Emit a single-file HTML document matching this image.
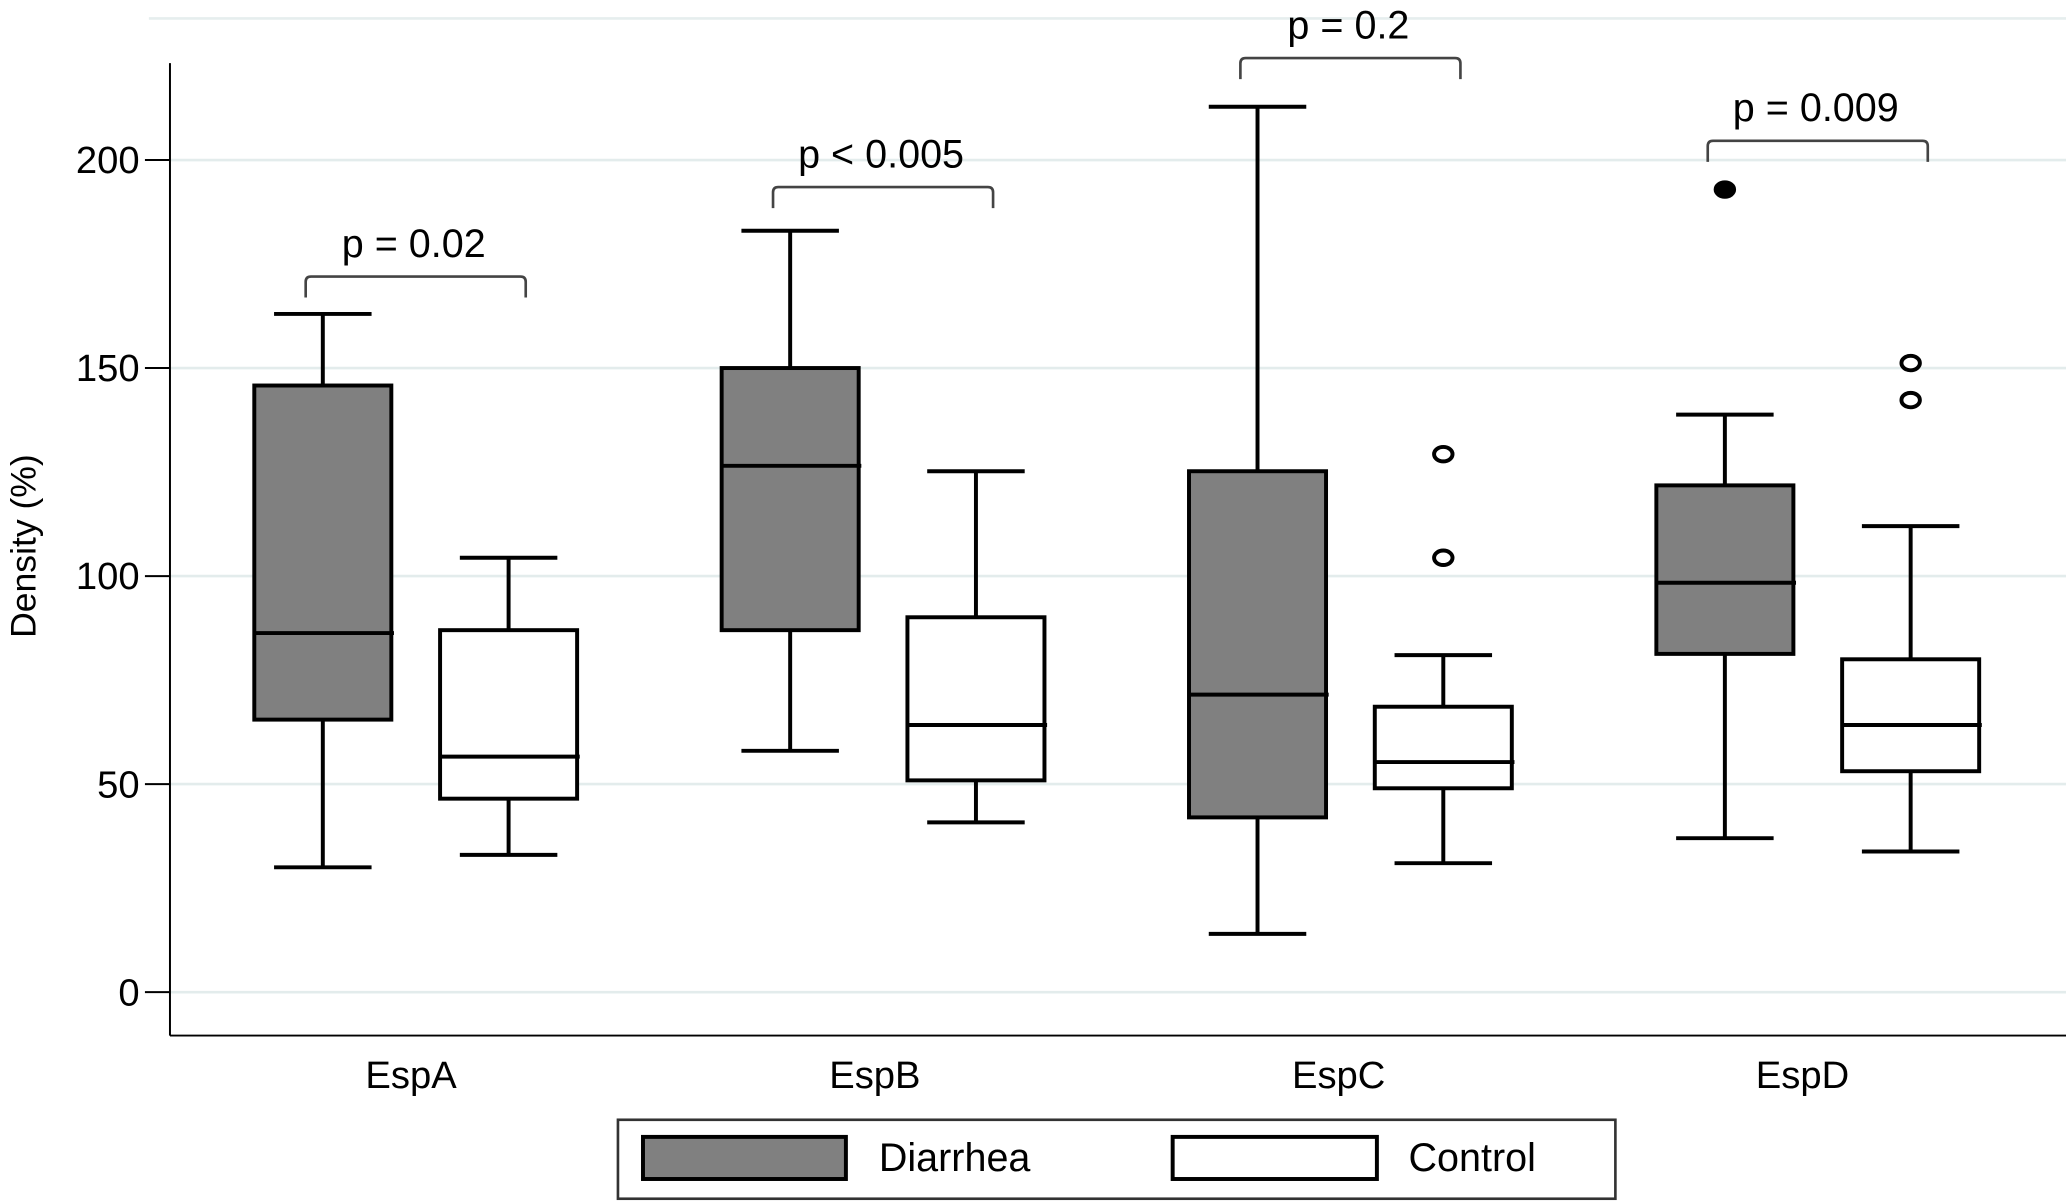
<!DOCTYPE html>
<html><head><meta charset="utf-8"><style>
html,body{margin:0;padding:0;background:#fff}
svg{display:block}
text{font-family:"Liberation Sans",Arial,sans-serif;fill:#000}
</style></head><body>
<svg id="chart" width="2066" height="1204" viewBox="0 0 1568 915" preserveAspectRatio="none" xmlns="http://www.w3.org/2000/svg">
<line x1="113" y1="14" x2="1568" y2="14" stroke="#e6eeee" stroke-width="2"/>
<g id="grid"></g>
<g id="axes"></g>
<g id="boxes"></g>
<g id="brackets"></g>
<text transform="translate(27,415) rotate(-90)" text-anchor="middle" font-size="27">Density (%)</text>
<g>
<rect x="469" y="851" width="757" height="60" fill="#fff" stroke="#333" stroke-width="2"/>
<rect x="488" y="864" width="154" height="32" fill="#808080" stroke="#000" stroke-width="3"/>
<text x="667" y="890" font-size="30">Diarrhea</text>
<rect x="890" y="864" width="155" height="32" fill="#fff" stroke="#000" stroke-width="3"/>
<text x="1069" y="890" font-size="30">Control</text>
</g>
</svg>
<script>
const categories=["EspA","EspB","EspC","EspD"];
const yTicks=[0,50,100,150,200];
const diarrheaLo=[30,58,14,37];
const diarrheaQ1=[65.5,87,42,81.3];
const diarrheaMed=[86.3,126.5,71.5,98.4];
const diarrheaQ3=[145.8,150,125.2,121.8];
const diarrheaHi=[163,183,212.8,138.8];
const diarrheaOutliers=[[],[],[],[192.9]];
const controlLo=[33,40.8,31,33.8];
const controlQ1=[46.5,50.9,49,53.1];
const controlMed=[56.6,64.2,55.3,64.2];
const controlQ3=[87,90.1,68.6,80];
const controlHi=[104.4,125.2,81,112];
const controlOutliers=[[],[],[104.4,129.3],[142.3,151.2]];
const pLabels=["p = 0.02","p < 0.005","p = 0.2","p = 0.009"];
const bracketLevels=[172,193.5,224.5,204.6];

const NS="http://www.w3.org/2000/svg";
function y(v){return 754-3.162*v;}
function bx(i){return 245+354.7*i;}
function lx(i){return 312+352*i;}
function mk(tag,attrs,parent,txt){const e=document.createElementNS(NS,tag);for(const k in attrs)e.setAttribute(k,attrs[k]);if(txt!==undefined)e.textContent=txt;parent.appendChild(e);return e;}
const grid=document.getElementById('grid'),axes=document.getElementById('axes'),boxes=document.getElementById('boxes'),br=document.getElementById('brackets');
yTicks.forEach(t=>{
  const g=mk('line',{x1:129,x2:1568,y1:y(t),y2:y(t),stroke:'#e3ecec','stroke-width':2},grid);
  
  
  const tk=mk('line',{x1:110,x2:129,y1:y(t),y2:y(t),stroke:'#000','stroke-width':1.5},axes);
  
  
  const lb=mk('text',{x:106,y:y(t)+10,'text-anchor':'end','font-size':29},axes,String(t));
  
  
});
const ya=mk('line',{x1:129,x2:129,y1:48,y2:787,stroke:'#000','stroke-width':1.5},axes);


const xa=mk('line',{x1:129,x2:1568,y1:787,y2:787,stroke:'#000','stroke-width':1.5},axes);


function drawBox(cx,lo,q1,md,q3,hi,outs,fill,name){
  const g=mk('g',{},boxes);
  
  
  const a={stroke:'#000','stroke-width':3};
  mk('line',Object.assign({x1:cx,x2:cx,y1:y(hi),y2:y(q3)},a),g);
  mk('line',Object.assign({x1:cx,x2:cx,y1:y(q1),y2:y(lo)},a),g);
  mk('line',Object.assign({x1:cx-37,x2:cx+37,y1:y(hi),y2:y(hi)},a),g);
  mk('line',Object.assign({x1:cx-37,x2:cx+37,y1:y(lo),y2:y(lo)},a),g);
  mk('rect',Object.assign({x:cx-52,width:104,y:y(q3),height:y(q1)-y(q3),fill:fill},a),g);
  mk('line',Object.assign({x1:cx-52,x2:cx+54,y1:y(md),y2:y(md)},a),g);
  outs.forEach(o=>{
    const c=mk('ellipse',{cx:cx,cy:y(o),rx:7,ry:5.5,fill:fill==='#fff'?'#fff':'#000',stroke:'#000','stroke-width':3},g);
    
    
  });
}
categories.forEach((c,i)=>{
  const dx=bx(i);
  drawBox(dx,diarrheaLo[i],diarrheaQ1[i],diarrheaMed[i],diarrheaQ3[i],diarrheaHi[i],diarrheaOutliers[i],'#808080','box-diarrhea-'+c.toLowerCase());
  drawBox(dx+141,controlLo[i],controlQ1[i],controlMed[i],controlQ3[i],controlHi[i],controlOutliers[i],'#fff','box-control-'+c.toLowerCase());
  const l=mk('text',{x:lx(i),y:827,'text-anchor':'middle','font-size':29},axes,c);
  
  
  const by=y(bracketLevels[i]);
  const x1=dx-13,x2=dx+154;
  const p=mk('path',{d:`M${x1},${by+16} L${x1},${by+4} Q${x1},${by} ${x1+4},${by} L${x2-4},${by} Q${x2},${by} ${x2},${by+4} L${x2},${by+16}`,fill:'none',stroke:'#444','stroke-width':2},br);
  
  
  const pt=mk('text',{x:dx+69,y:by-15,'text-anchor':'middle','font-size':30},br,pLabels[i]);
  
  
});
</script>
</body></html>
